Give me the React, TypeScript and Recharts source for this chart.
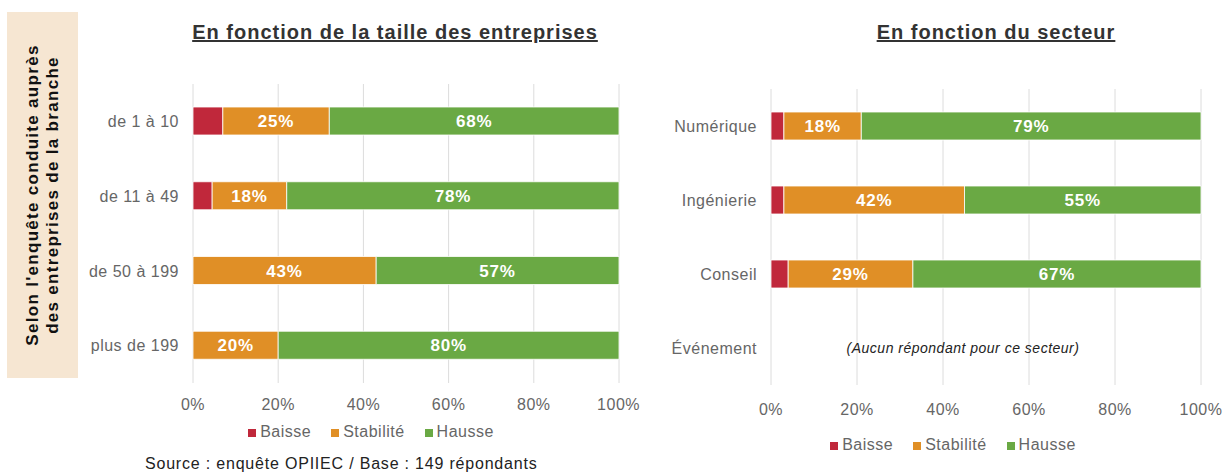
import {
  BarChart,
  Bar,
  XAxis,
  YAxis,
  CartesianGrid,
  Legend,
  LabelList,
  ReferenceLine,
} from "recharts";

// valeurs (en %)
const tailles = ["de 1 à 10", "de 11 à 49", "de 50 à 199", "plus de 199"];
const tailleBaisse = [7, 4.5, 0, 0];
const tailleStabilite = [25, 17.5, 43, 20];
const tailleHausse = [68, 78, 57, 80];

const secteurs = ["Numérique", "Ingénierie", "Conseil", "Événement"];
const secteurBaisse = [3, 3, 4, null];
const secteurStabilite = [18, 42, 29, null];
const secteurHausse = [79, 55, 67, null];

const ticks = [0, 20, 40, 60, 80, 100];
const legendOrder = ["Baisse", "Stabilité", "Hausse"];
const noAnswer = "(Aucun répondant pour ce secteur)";

const RED = "#c0283b";
const ORANGE = "#e08f26";
const GREEN = "#6aa944";
const FONT = "'Liberation Sans', Arial, sans-serif";

const tailleData = tailles.map((cat, i) => ({
  cat,
  baisse: tailleBaisse[i],
  stabilite: tailleStabilite[i],
  hausse: tailleHausse[i],
}));

const secteurData = secteurs.map((cat, i) => ({
  cat,
  baisse: secteurBaisse[i],
  stabilite: secteurStabilite[i],
  hausse: secteurHausse[i],
}));

const pct = (v: any) => (v ? `${Math.round(v)}%` : "");

const barLabel = {
  fill: "#fff",
  fontWeight: 700,
  fontSize: 17,
  letterSpacing: 0.8,
  fontFamily: FONT,
};

const tickStyle = { fill: "#666", fontSize: 16, letterSpacing: 0.5, fontFamily: FONT };

const Series = () => [
  <Bar
    key="b"
    dataKey="baisse"
    name="Baisse"
    stackId="a"
    fill={RED}
    stroke="#fff"
    strokeWidth={0.8}
    barSize={28}
    isAnimationActive={false}
  />,
  <Bar
    key="s"
    dataKey="stabilite"
    name="Stabilité"
    stackId="a"
    fill={ORANGE}
    stroke="#fff"
    strokeWidth={0.8}
    barSize={28}
    isAnimationActive={false}
  >
    <LabelList dataKey="stabilite" position="center" formatter={pct} style={barLabel} />
  </Bar>,
  <Bar
    key="h"
    dataKey="hausse"
    name="Hausse"
    stackId="a"
    fill={GREEN}
    stroke="#fff"
    strokeWidth={0.8}
    barSize={28}
    isAnimationActive={false}
  >
    <LabelList dataKey="hausse" position="center" formatter={pct} style={barLabel} />
  </Bar>,
];

const legendStyle = { fontSize: 16, letterSpacing: 0.5, fontFamily: FONT };
const legendText = (value: string) => (
  <span style={{ color: "#666", marginLeft: 0, marginRight: 10 }}>{value}</span>
);
const legendSort = (item: any) => legendOrder.indexOf(item.value);

const titleStyle: React.CSSProperties = {
  position: "absolute",
  top: 21,
  fontFamily: FONT,
  fontWeight: 700,
  fontSize: 20,
  letterSpacing: 1,
  color: "#333",
  textDecoration: "underline",
  whiteSpace: "nowrap",
  transform: "translateX(-50%)",
};

export default function App() {
  return (
    <div
      style={{
        position: "absolute",
        left: 0,
        top: 0,
        width: 1229,
        height: 475,
        background: "#fff",
        fontFamily: FONT,
        overflow: "hidden",
      }}
    >
      {/* bandeau vertical */}
      <div
        style={{
          position: "absolute",
          left: 7,
          top: 12,
          width: 71,
          height: 366,
          background: "#f6e6d2",
        }}
      >
        <div
          style={{
            position: "absolute",
            left: "50%",
            top: "50%",
            transform: "translate(-50%, -50%) rotate(-90deg)",
            whiteSpace: "nowrap",
            textAlign: "center",
            fontWeight: 700,
            fontSize: 17,
            letterSpacing: 1.3,
            lineHeight: "20px",
            color: "#111",
          }}
        >
          Selon l'enquête conduite auprès
          <br />
          des entreprises de la branche
        </div>
      </div>

      <div style={{ ...titleStyle, left: 395 }}>En fonction de la taille des entreprises</div>
      <div style={{ ...titleStyle, left: 996 }}>En fonction du secteur</div>

      <div style={{ position: "absolute", left: 0, top: 0 }}>
        <BarChart
          width={640}
          height={475}
          layout="vertical"
          data={tailleData}
          margin={{ top: 84, right: 21, bottom: 28, left: 0 }}
        >
          <CartesianGrid horizontal={false} stroke="#dcdcdc" />
          <XAxis
            type="number"
            domain={[0, 100]}
            ticks={ticks}
            tickFormatter={(v) => `${v}%`}
            axisLine={false}
            tickLine={false}
            tickSize={0}
            tickMargin={16}
            height={40}
            tick={tickStyle}
          />
          <YAxis
            type="category"
            dataKey="cat"
            width={193}
            axisLine={false}
            tickLine={false}
            tickSize={0}
            tickMargin={14}
            tick={tickStyle}
          />
          {Series()}
          <Legend
            verticalAlign="bottom"
            height={24}
            iconType="square"
            iconSize={8}
            itemSorter={legendSort}
            formatter={legendText}
            wrapperStyle={{ ...legendStyle, left: 236, width: 290 }}
          />
        </BarChart>
      </div>

      <div style={{ position: "absolute", left: 640, top: 0 }}>
        <BarChart
          width={589}
          height={475}
          layout="vertical"
          data={secteurData}
          margin={{ top: 89, right: 28, bottom: 15, left: 0 }}
        >
          <CartesianGrid horizontal={false} stroke="#dcdcdc" />
          <XAxis
            type="number"
            domain={[0, 100]}
            ticks={ticks}
            tickFormatter={(v) => `${v}%`}
            axisLine={false}
            tickLine={false}
            tickSize={0}
            tickMargin={19}
            height={51}
            tick={tickStyle}
          />
          <YAxis
            type="category"
            dataKey="cat"
            width={131}
            axisLine={false}
            tickLine={false}
            tickSize={0}
            tickMargin={14}
            tick={tickStyle}
          />
          {Series()}
          <ReferenceLine
            y="Événement"
            stroke="none"
            label={{
              value: noAnswer,
              position: "center",
              dx: -23,
              fill: "#222",
              fontSize: 14,
              letterSpacing: 0.5,
              fontStyle: "italic",
              fontFamily: FONT,
            }}
          />
          <Legend
            verticalAlign="bottom"
            height={24}
            iconType="square"
            iconSize={8}
            itemSorter={legendSort}
            formatter={legendText}
            wrapperStyle={{ ...legendStyle, left: 178, width: 290 }}
          />
        </BarChart>
      </div>

      <div
        style={{
          position: "absolute",
          left: 145,
          top: 455,
          fontSize: 16,
          letterSpacing: 0.8,
          color: "#222",
          whiteSpace: "nowrap",
        }}
      >
        Source : enquête OPIIEC / Base : 149 répondants
      </div>
    </div>
  );
}
